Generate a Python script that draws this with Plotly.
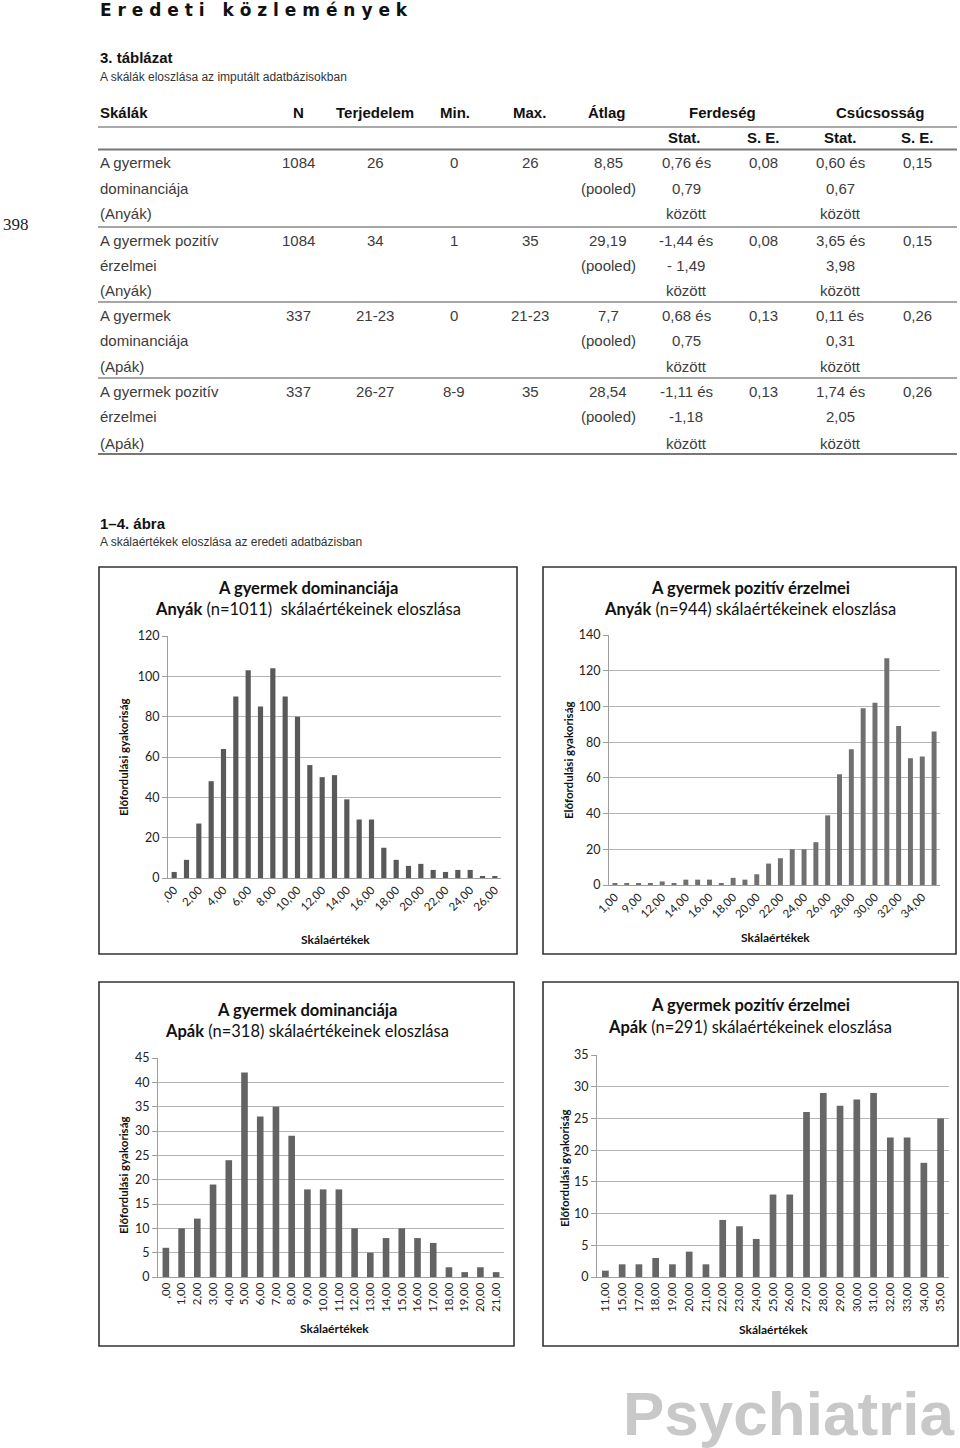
import plotly.graph_objects as go

W, H = 960, 1448

# ---------------- data ----------------
ch1_cats = [",00"] + [f"{i},00" for i in range(1, 27)]
ch1_vals = [3, 9, 27, 48, 64, 90, 103, 85, 104, 90, 80, 56, 50, 51, 39, 29, 29, 15, 9, 6, 7, 4, 3, 4, 4, 1, 1]

ch2_cats = ["1,00", "8,00", "9,00", "11,00"] + [f"{i},00" for i in range(12, 36)]
ch2_vals = [1, 1, 1, 1, 2, 1, 3, 3, 3, 1, 4, 3, 6, 12, 15, 20, 20, 24, 39, 62, 76, 99, 102, 127, 89, 71, 72, 86]

ch3_cats = [",00"] + [f"{i},00" for i in range(1, 22)]
ch3_vals = [6, 10, 12, 19, 24, 42, 33, 35, 29, 18, 18, 18, 10, 5, 8, 10, 8, 7, 2, 1, 2, 1]

ch4_cats = ["11,00", "15,00", "17,00"] + [f"{i},00" for i in range(18, 36)]
ch4_vals = [1, 2, 2, 3, 2, 4, 2, 9, 8, 6, 13, 13, 26, 29, 27, 28, 29, 22, 22, 18, 25]

ch_titles1 = ["A gyermek dominanciája", "A gyermek pozitív érzelmei",
              "A gyermek dominanciája", "A gyermek pozitív érzelmei"]
ch_titles2 = ["<b>Anyák</b> (n=1011)  skálaértékeinek eloszlása",
              "<b>Anyák</b> (n=944) skálaértékeinek eloszlása",
              "<b>Apák</b> (n=318) skálaértékeinek eloszlása",
              "<b>Apák</b> (n=291) skálaértékeinek eloszlása"]

# table
hdr1 = ["Skálák", "N", "Terjedelem", "Min.", "Max.", "Átlag", "Ferdeség", "Csúcsosság"]
hdr2 = ["Stat.", "S. E.", "Stat.", "S. E."]
col_skala = ["A gyermek", "dominanciája", "(Anyák)", "A gyermek pozitív", "érzelmei", "(Anyák)",
             "A gyermek", "dominanciája", "(Apák)", "A gyermek pozitív", "érzelmei", "(Apák)"]
col_n = ["1084", "", "", "1084", "", "", "337", "", "", "337", "", ""]
col_terj = ["26", "", "", "34", "", "", "21-23", "", "", "26-27", "", ""]
col_min = ["0", "", "", "1", "", "", "0", "", "", "8-9", "", ""]
col_max = ["26", "", "", "35", "", "", "21-23", "", "", "35", "", ""]
col_atlag = ["8,85", "(pooled)", "", "29,19", "(pooled)", "", "7,7", "(pooled)", "", "28,54", "(pooled)", ""]
col_f_stat = ["0,76 és", "0,79", "között", "-1,44 és", "- 1,49", "között",
              "0,68 és", "0,75", "között", "-1,11 és", "-1,18", "között"]
col_f_se = ["0,08", "", "", "0,08", "", "", "0,13", "", "", "0,13", "", ""]
col_c_stat = ["0,60 és", "0,67", "között", "3,65 és", "3,98", "között",
              "0,11 és", "0,31", "között", "1,74 és", "2,05", "között"]
col_c_se = ["0,15", "", "", "0,15", "", "", "0,26", "", "", "0,26", "", ""]

# ---------------- helpers ----------------
def px(x):
    return x / W

def py(y):
    return 1 - y / H

fig = go.Figure()
ann = []
shapes = []

TFONT = "Liberation Sans, Arial, sans-serif"
CFONT = "Lato, Open Sans, sans-serif"

def text(x, y, s, size, bold=False, color="#222", xanchor="left", family=TFONT, angle=0):
    ann.append(dict(x=px(x), y=py(y), xref="paper", yref="paper", text=(f"<b>{s}</b>" if bold else s),
                    showarrow=False, xanchor=xanchor, yanchor="middle", textangle=angle,
                    font=dict(size=size, color=color, family=family)))

def hline(y, x0, x1, w, color):
    shapes.append(dict(type="line", xref="paper", yref="paper", x0=px(x0), x1=px(x1),
                       y0=py(y), y1=py(y), line=dict(color=color, width=w)))

# header
text(98, 10, "E r e d e t i   k ö z l e m é n y e k", 17, bold=True, color="#111",
     family="DejaVu Sans, sans-serif")
text(98, 58, "3. táblázat", 15, bold=True, color="#111")
text(98, 77, "A skálák eloszlása az imputált adatbázisokban", 12, color="#333")
text(16, 224, "398", 17, color="#222", xanchor="center", family="Liberation Serif, serif")

# table
hdr1_x = [98, 298, 375, 455, 529, 607, 722, 880]
for i, (s, x) in enumerate(zip(hdr1, hdr1_x)):
    text(x, 113, s, 15, bold=True, color="#111", xanchor="left" if i == 0 else "center")
hdr2_x = [684, 763, 840, 917]
for s, x in zip(hdr2, hdr2_x):
    text(x, 137, s, 15, bold=True, color="#111", xanchor="center")
hline(127, 98, 957, 1.2, "#555")
hline(149.5, 98, 957, 2.2, "#777")

row_y = [163, 189, 214, 240, 265, 290, 316, 341, 367, 392, 417, 443]
cols = [col_skala, col_n, col_terj, col_min, col_max, col_atlag, col_f_stat, col_f_se, col_c_stat, col_c_se]
col_x = [98, 298, 375, 454, 530, 608, 686, 763, 840, 917]
for ci, (col, x) in enumerate(zip(cols, col_x)):
    for s, y in zip(col, row_y):
        if s:
            text(x, y, s, 15, color="#3c3c3c", xanchor="left" if ci == 0 else "center")
for y in [227, 302, 378]:
    hline(y, 98, 957, 1.6, "#888")
hline(454, 98, 957, 2.2, "#777")

# figure caption
text(98, 523, "1–4. ábra", 15, bold=True, color="#111")
text(98, 542, "A skálaértékek eloszlása az eredeti adatbázisban", 12, color="#333")

# ---------------- charts ----------------
charts = [
    dict(cats=ch1_cats, vals=ch1_vals, box=(99, 567, 517, 954), xd=(168, 501), yd=(636, 878),
         ymax=120, dt=20, every=2, angle=-45, bw=0.42, color="#595959",
         t1=588, t2=609, tx=308, ytx=123, yty=757, sx=335, sy=939),
    dict(cats=ch2_cats, vals=ch2_vals, box=(543, 567, 956, 954), xd=(609, 940), yd=(635, 885),
         ymax=140, dt=20, every=2, angle=-45, bw=0.42, color="#707070",
         t1=588, t2=609, tx=750, ytx=568, yty=760, sx=775, sy=937),
    dict(cats=ch3_cats, vals=ch3_vals, box=(99, 982, 514, 1346), xd=(158, 504), yd=(1058, 1277),
         ymax=45, dt=5, every=1, angle=-90, bw=0.42, color="#636363",
         t1=1010, t2=1031, tx=307, ytx=123, yty=1175, sx=334, sy=1328),
    dict(cats=ch4_cats, vals=ch4_vals, box=(543, 982, 958, 1346), xd=(597, 949), yd=(1055, 1277),
         ymax=35, dt=5, every=1, angle=-90, bw=0.4, color="#676767",
         t1=1005, t2=1027, tx=750, ytx=564, yty=1168, sx=773, sy=1329),
]

layout_axes = {}
for i, c in enumerate(charts, start=1):
    xa = "x" if i == 1 else f"x{i}"
    ya = "y" if i == 1 else f"y{i}"
    fig.add_trace(go.Bar(x=c["cats"], y=c["vals"], width=c["bw"],
                         marker=dict(color=c["color"], line=dict(width=0)),
                         xaxis=xa, yaxis=ya, showlegend=False, hoverinfo="x+y"))
    xk = "xaxis" if i == 1 else f"xaxis{i}"
    yk = "yaxis" if i == 1 else f"yaxis{i}"
    tv = c["cats"][::c["every"]]
    layout_axes[xk] = dict(domain=[px(c["xd"][0]), px(c["xd"][1])], anchor=ya, type="category",
                           categoryorder="array", categoryarray=c["cats"], automargin=False,
                           tickmode="array", tickvals=tv, ticktext=tv, tickangle=c["angle"],
                           tickfont=dict(size=11.5, color="#222", family=CFONT),
                           showline=True, linecolor="#9e9e9e", linewidth=1, ticks="",
                           showgrid=False, zeroline=False, fixedrange=True)
    layout_axes[yk] = dict(domain=[py(c["yd"][1]), py(c["yd"][0])], anchor=xa, range=[0, c["ymax"]],
                           automargin=False,
                           dtick=c["dt"], tick0=0, showgrid=True, gridcolor="#b5b5b5", gridwidth=1,
                           zeroline=False, showline=True, linecolor="#9e9e9e", linewidth=1,
                           ticks="outside", ticklen=5, tickcolor="#9e9e9e",
                           tickfont=dict(size=12.5, color="#222", family=CFONT), fixedrange=True)
    bx0, by0, bx1, by1 = c["box"]
    shapes.append(dict(type="rect", xref="paper", yref="paper", x0=px(bx0), x1=px(bx1),
                       y0=py(by1), y1=py(by0), line=dict(color="#333", width=1.6)))
    text(c["tx"], c["t1"], ch_titles1[i - 1], 16.5, bold=True, color="#111", xanchor="center", family=CFONT)
    text(c["tx"], c["t2"], ch_titles2[i - 1], 16.5, color="#111", xanchor="center", family=CFONT)
    text(c["ytx"], c["yty"], "Előfordulási gyakoriság", 11.5, bold=True, color="#111",
         xanchor="center", family=CFONT, angle=-90)
    text(c["sx"], c["sy"], "Skálaértékek", 12, bold=True, color="#111", xanchor="center", family=CFONT)

# watermark
text(621, 1413, "Psychiatria", 62, bold=True, color="#c8c8c8", family="Liberation Sans, Arial, sans-serif")

fig.update_layout(width=W, height=H, margin=dict(l=0, r=0, t=0, b=0, pad=0, autoexpand=False),
                  paper_bgcolor="white", plot_bgcolor="white",
                  annotations=ann, shapes=shapes, **layout_axes)

fig.write_html("out.html", config={"responsive": False, "displayModeBar": False},
               post_script="document.body.style.margin='0';document.body.style.overflow='hidden';")
